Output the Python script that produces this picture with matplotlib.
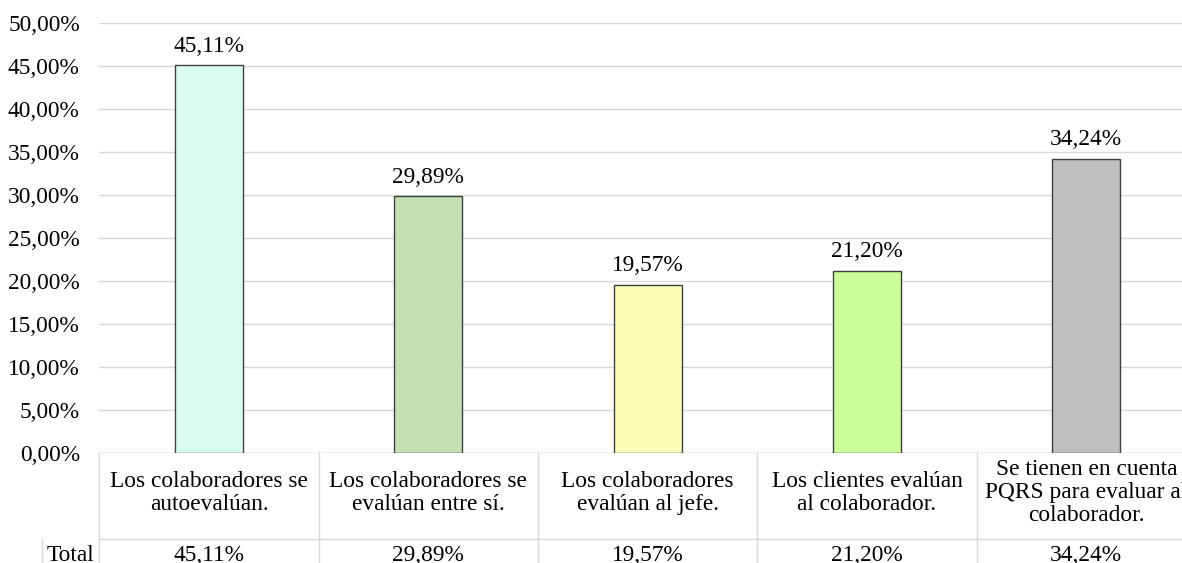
import matplotlib.pyplot as plt
import matplotlib.transforms as mtransforms
from matplotlib.ticker import FuncFormatter

categories = [
    "Los colaboradores se\nautoevalúan.",
    "Los colaboradores se\nevalúan entre sí.",
    "Los colaboradores\nevalúan al jefe.",
    "Los clientes evalúan\nal colaborador.",
    "Se tienen en cuenta\nPQRS para evaluar al\ncolaborador.",
]
values = [45.11, 29.89, 19.57, 21.20, 34.24]
colors = ["#D9FCEF", "#C5DFB4", "#FDFDBA", "#CCFF99", "#BFBFBF"]
yticks = [0, 5, 10, 15, 20, 25, 30, 35, 40, 45, 50]

plt.rcParams['font.family'] = ['Liberation Serif', 'DejaVu Serif']
fs = 16.8
grid_c = "#D9D9D9"


def pct(v):
    return f"{v:.2f}%".replace(".", ",")


fig = plt.figure(figsize=(11.82, 5.63), dpi=100)
ax = fig.add_axes([99.3 / 1182, 1 - 453 / 563, 1096.7 / 1182, 430 / 563])

x = list(range(len(values)))
ax.bar(x, values, width=0.31, color=colors, edgecolor="#404040", linewidth=1.0, zorder=3)
for xi, v in zip(x, values):
    ax.annotate(pct(v), (xi, v), xytext=(0, 6), textcoords="offset points",
                ha="center", va="bottom", fontsize=fs)

ax.set_xlim(-0.5, len(values) - 0.5)
ax.set_ylim(0, 50)
ax.set_yticks(yticks)
ax.yaxis.set_major_formatter(FuncFormatter(lambda v, p: pct(v)))
ax.tick_params(axis="y", length=0, pad=14, labelsize=fs)
ax.set_xticks([])
ax.grid(axis="y", color=grid_c, linewidth=1.0, zorder=0)
for s in ax.spines.values():
    s.set_visible(False)
ax.axhline(0, color=grid_c, linewidth=1.0, zorder=2)

# data table under the plot
tr = mtransforms.blended_transform_factory(ax.transData, ax.transAxes)
row1 = -0.2
bottom = -0.45
label_left = -0.76
for b in [i - 0.5 for i in range(len(values) + 1)]:
    ax.plot([b, b], [0, bottom], color=grid_c, lw=1.0, transform=tr, clip_on=False)
ax.plot([-0.5, len(values) - 0.5], [row1, row1], color=grid_c, lw=1.0, transform=tr, clip_on=False)
ax.plot([label_left, label_left], [row1, bottom], color=grid_c, lw=1.0, transform=tr, clip_on=False)

for xi, cat, v in zip(x, categories, values):
    ax.text(xi, -0.092, cat, transform=tr, ha="center", va="center", fontsize=fs,
            linespacing=1.12, clip_on=False)
    ax.text(xi, -0.238, pct(v), transform=tr, ha="center", va="center", fontsize=fs, clip_on=False)
ax.text((label_left - 0.5) / 2, -0.238, "Total", transform=tr, ha="center", va="center",
        fontsize=fs, clip_on=False)

fig.savefig("out.png", dpi=100)
